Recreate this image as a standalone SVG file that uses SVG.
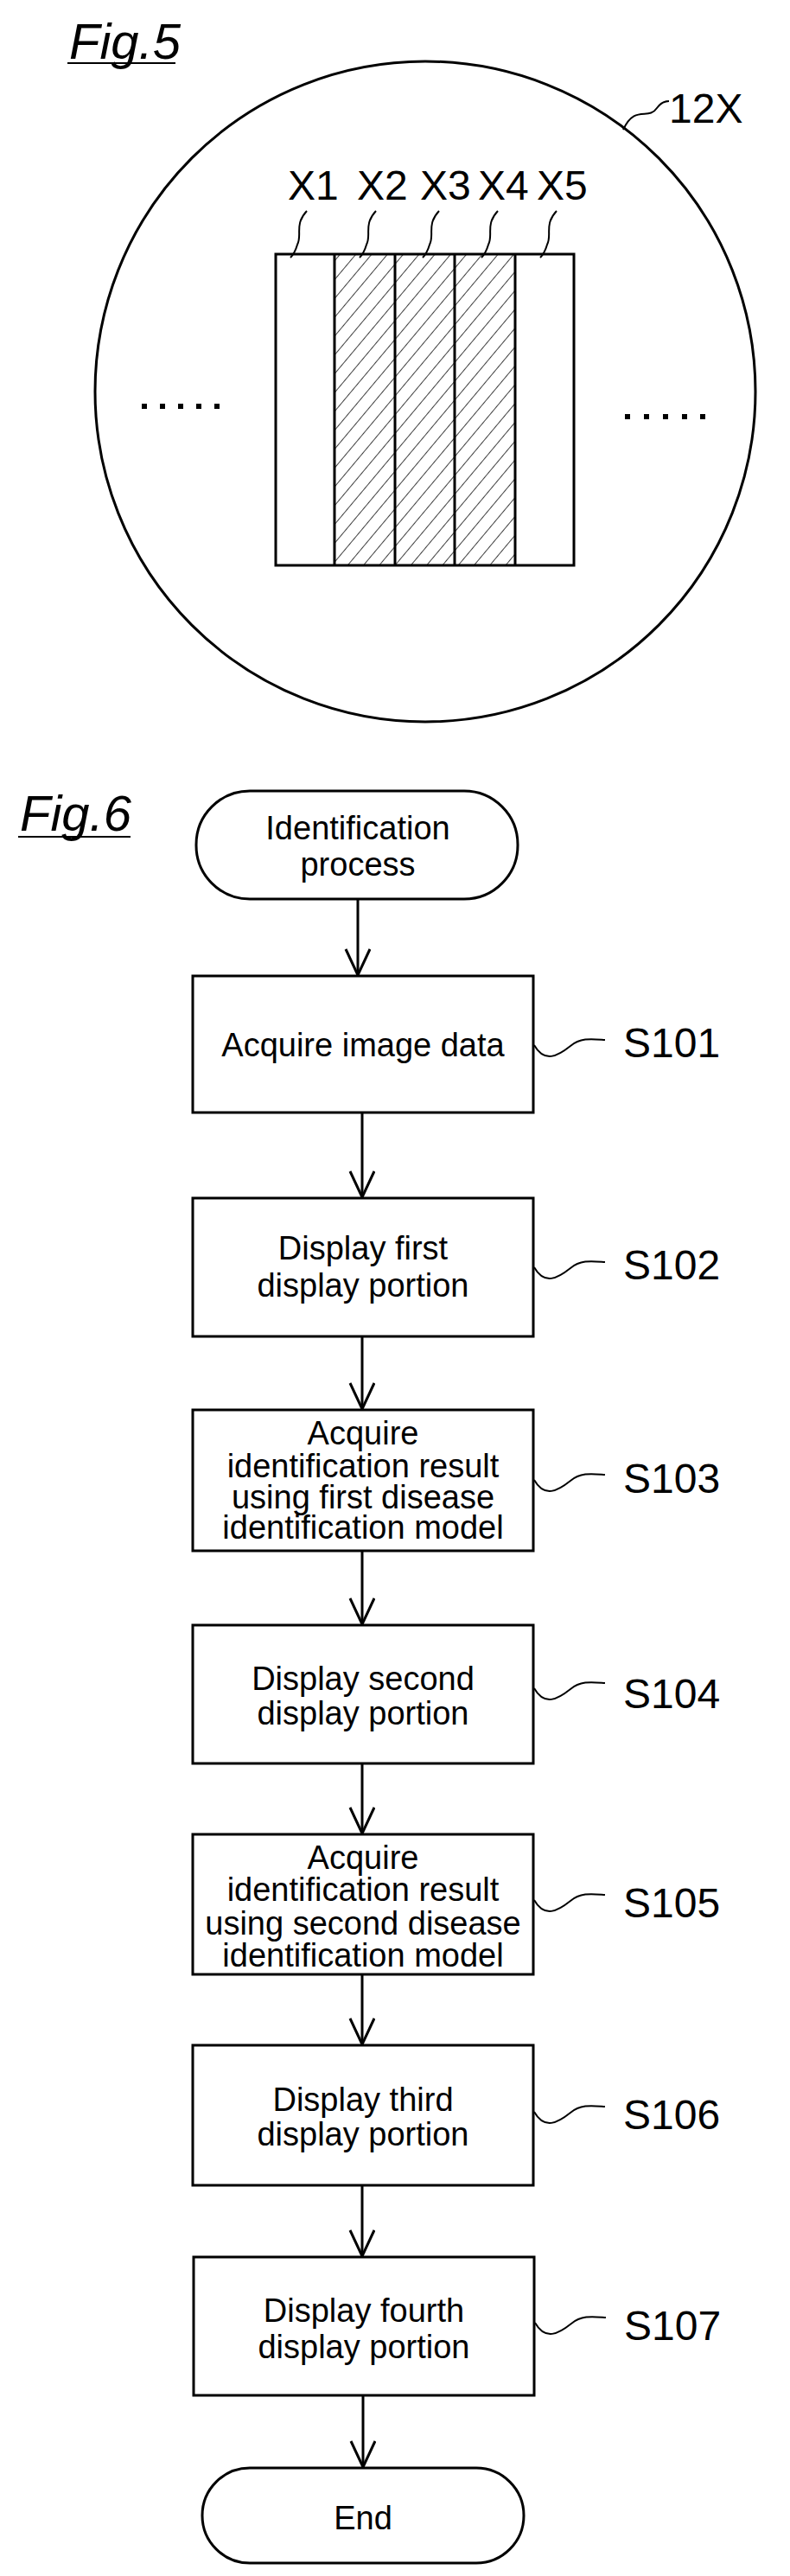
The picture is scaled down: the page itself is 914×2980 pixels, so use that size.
<svg xmlns="http://www.w3.org/2000/svg" width="914" height="2980" viewBox="0 0 914 2980">
<style>
.ln{fill:none;stroke:#000;stroke-width:3}
.thin{fill:none;stroke:#000;stroke-width:2}
.box{fill:#fff;stroke:#000;stroke-width:3}
.t{font-family:"Liberation Sans",Arial,sans-serif;font-size:38px;text-anchor:middle;fill:#000}
.lab{font-family:"Liberation Sans",Arial,sans-serif;font-size:48px;fill:#000}
.fig{font-family:"Liberation Sans",Arial,sans-serif;font-size:58px;font-style:italic;fill:#000}
</style>
<defs>
<pattern id="hatch" patternUnits="userSpaceOnUse" width="14" height="14" patternTransform="rotate(40)">
<line x1="0" y1="0" x2="0" y2="14" stroke="#000" stroke-width="1.5"/>
</pattern>
<marker id="arr" markerUnits="userSpaceOnUse" markerWidth="34" markerHeight="32" refX="32" refY="15" orient="auto" viewBox="0 0 34 32">
<path d="M2 1 L32 15 L2 29" fill="none" stroke="#000" stroke-width="3"/>
</marker>
</defs>
<rect width="914" height="2980" fill="#fff"/>

<g id="fig5">
<text class="fig" x="80" y="68">Fig.5</text>
<line x1="78" y1="73" x2="203" y2="73" class="thin"/>
<circle cx="492" cy="453" r="382" class="ln"/>
<text class="lab" x="774" y="142">12X</text>
<path d="M721 150 C735 120 750 140 760 125 C765 118 770 117 774 117" class="thin"/>
<rect x="387" y="294" width="209" height="360" fill="url(#hatch)"/>
<rect x="319" y="294" width="345" height="360" class="ln"/>
<line x1="387" y1="294" x2="387" y2="654" class="ln"/>
<line x1="457" y1="294" x2="457" y2="654" class="ln"/>
<line x1="526" y1="294" x2="526" y2="654" class="ln"/>
<line x1="596" y1="294" x2="596" y2="654" class="ln"/>
<text class="lab" x="333" y="231">X1</text>
<text class="lab" x="413" y="231">X2</text>
<text class="lab" x="486" y="231">X3</text>
<text class="lab" x="553" y="231">X4</text>
<text class="lab" x="621" y="231">X5</text>
<path d="M355 244 C340 260 350 272 344 283 C342 290 340 294 336 298" class="thin"/>
<path d="M435 244 C420 260 430 272 424 283 C422 290 420 294 416 298" class="thin"/>
<path d="M508 244 C493 260 503 272 497 283 C495 290 493 294 489 298" class="thin"/>
<path d="M576 244 C561 260 571 272 565 283 C563 290 561 294 557 298" class="thin"/>
<path d="M644 244 C629 260 639 272 633 283 C631 290 629 294 625 298" class="thin"/>
<g fill="#000">
<rect x="164" y="467" width="6" height="6"/><rect x="185" y="467" width="6" height="6"/><rect x="206" y="467" width="6" height="6"/><rect x="227" y="467" width="6" height="6"/><rect x="248" y="467" width="6" height="6"/>
<rect x="723" y="479" width="6" height="6"/><rect x="745" y="479" width="6" height="6"/><rect x="767" y="479" width="6" height="6"/><rect x="789" y="479" width="6" height="6"/><rect x="810" y="479" width="6" height="6"/>
</g>
</g>

<text class="fig" x="23" y="961">Fig.6</text>
<line x1="21" y1="968" x2="151" y2="968" class="thin"/>

<g id="connectors">
<line x1="414" y1="1040" x2="414" y2="1128" class="ln" marker-end="url(#arr)"/>
<line x1="419" y1="1287" x2="419" y2="1385" class="ln" marker-end="url(#arr)"/>
<line x1="419" y1="1546" x2="419" y2="1630" class="ln" marker-end="url(#arr)"/>
<line x1="419" y1="1794" x2="419" y2="1879" class="ln" marker-end="url(#arr)"/>
<line x1="419" y1="2040" x2="419" y2="2121" class="ln" marker-end="url(#arr)"/>
<line x1="419" y1="2284" x2="419" y2="2365" class="ln" marker-end="url(#arr)"/>
<line x1="419" y1="2528" x2="419" y2="2610" class="ln" marker-end="url(#arr)"/>
<line x1="420" y1="2771" x2="420" y2="2854" class="ln" marker-end="url(#arr)"/>
</g>

<g id="start">
<rect x="227" y="915" width="372" height="125" rx="62" class="box"/>
<text class="t" x="414" y="971">Identification</text>
<text class="t" x="414" y="1013">process</text>
</g>

<g id="s101">
<rect x="223" y="1129" width="394" height="158" class="box"/>
<text class="t" x="420" y="1222">Acquire image data</text>
<path d="M618 1209 C630 1230 645 1222 660 1210 C672 1200 685 1202 700 1203" class="thin"/>
<text class="lab" x="721" y="1223">S101</text>
</g>

<g id="s102">
<rect x="223" y="1386" width="394" height="160" class="box"/>
<text class="t" x="420" y="1457">Display first</text>
<text class="t" x="420" y="1500">display portion</text>
<path d="M618 1466 C630 1487 645 1479 660 1467 C672 1457 685 1459 700 1460" class="thin"/>
<text class="lab" x="721" y="1480">S102</text>
</g>

<g id="s103">
<rect x="223" y="1631" width="394" height="163" class="box"/>
<text class="t" x="420" y="1671">Acquire</text>
<text class="t" x="420" y="1709">identification result</text>
<text class="t" x="420" y="1745">using first disease</text>
<text class="t" x="420" y="1780">identification model</text>
<path d="M618 1712 C630 1733 645 1725 660 1713 C672 1703 685 1705 700 1706" class="thin"/>
<text class="lab" x="721" y="1727">S103</text>
</g>

<g id="s104">
<rect x="223" y="1880" width="394" height="160" class="box"/>
<text class="t" x="420" y="1955">Display second</text>
<text class="t" x="420" y="1995">display portion</text>
<path d="M618 1953 C630 1974 645 1966 660 1954 C672 1944 685 1946 700 1947" class="thin"/>
<text class="lab" x="721" y="1976">S104</text>
</g>

<g id="s105">
<rect x="223" y="2122" width="394" height="162" class="box"/>
<text class="t" x="420" y="2162">Acquire</text>
<text class="t" x="420" y="2199">identification result</text>
<text class="t" x="420" y="2238">using second disease</text>
<text class="t" x="420" y="2275">identification model</text>
<path d="M618 2198 C630 2219 645 2211 660 2199 C672 2189 685 2191 700 2192" class="thin"/>
<text class="lab" x="721" y="2218">S105</text>
</g>

<g id="s106">
<rect x="223" y="2366" width="394" height="162" class="box"/>
<text class="t" x="420" y="2442">Display third</text>
<text class="t" x="420" y="2482">display portion</text>
<path d="M618 2443 C630 2464 645 2456 660 2444 C672 2434 685 2436 700 2437" class="thin"/>
<text class="lab" x="721" y="2463">S106</text>
</g>

<g id="s107">
<rect x="224" y="2611" width="394" height="160" class="box"/>
<text class="t" x="421" y="2686">Display fourth</text>
<text class="t" x="421" y="2728">display portion</text>
<path d="M619 2687 C631 2708 646 2700 661 2688 C673 2678 686 2680 701 2681" class="thin"/>
<text class="lab" x="722" y="2707">S107</text>
</g>

<g id="end">
<rect x="234" y="2855" width="372" height="110" rx="55" class="box"/>
<text class="t" x="420" y="2926">End</text>
</g>
</svg>
